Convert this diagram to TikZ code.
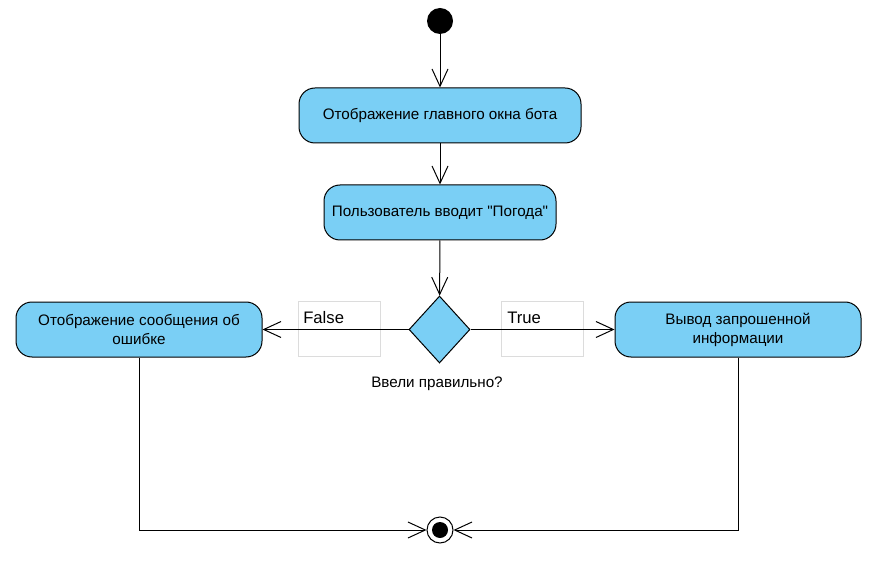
\documentclass[tikz,border=0pt]{standalone}
\usepackage{fontspec}
\defaultfontfeatures[\rmfamily]{}
\setmainfont{Liberation Sans}
\usetikzlibrary{shapes.geometric,arrows.meta}
\definecolor{actfill}{RGB}{122,207,245}
\definecolor{lblgray}{RGB}{220,220,220}
\begin{document}
\begin{tikzpicture}[x=0.75pt,y=-0.75pt,
  act/.style={draw=black,fill=actfill,rounded corners=12pt,line width=0.75pt,
    align=center,font=\fontsize{11.4}{14.2}\selectfont,inner sep=0pt},
  dec/.style={draw=black,fill=actfill,diamond,line width=0.75pt,minimum width=45.75pt,minimum height=50.25pt,inner sep=0pt,aspect=0.91},
  flow/.style={line width=0.75pt,-{Straight Barb[length=13pt,width=12pt,line width=0.75pt]}},
  lbl/.style={draw=lblgray,line width=0.6pt,minimum width=61.5pt,minimum height=41.25pt,inner sep=0pt},
  txt/.style={font=\fontsize{11.4}{14}\selectfont,inner sep=0pt},
  tag/.style={font=\fontsize{12.5}{14}\selectfont,inner sep=0pt}]
\useasboundingbox (0,0) rectangle (887,573);
\node[circle,fill=black,minimum size=19.5pt,inner sep=0pt] (start) at (440,21) {};
\node[act,minimum width=211.5pt,minimum height=41.25pt] (a1) at (440,115.5) {Отображение главного окна бота};
\node[act,minimum width=174pt,minimum height=41.25pt] (a2) at (440,212.5) {Пользователь вводит "Погода"};
\node[dec] (d) at (439.5,329.5) {};
\node[act,minimum width=184.5pt,minimum height=41.25pt] (err) at (139,329.5) {Отображение сообщения об\\ошибке};
\node[act,minimum width=184.5pt,minimum height=41.25pt] (out) at (738,329.5) {Вывод запрошенной\\информации};
\node[lbl] (fbox) at (339,328.5) {};
\node[lbl] (tbox) at (542.5,328.5) {};
\node[tag,anchor=west] (ftxt) at (303,317.5) {False};
\node[tag,anchor=west] (ttxt) at (507,317.5) {True};
\node[txt] (cond) at (437,384) {Ввели правильно?};
\node[circle,draw=black,line width=0.75pt,minimum size=19.5pt,inner sep=0pt] (end) at (440,530) {};
\node[circle,fill=black,minimum size=12pt,inner sep=0pt] (endin) at (440,530) {};
\draw[flow] (start) -- (a1);
\draw[flow] (a1) -- (a2);
\draw[flow] (a2) -- (d);
\draw[flow] (d) -- (err);
\draw[flow] (d) -- (out);
\draw[flow] (err.south) |- (end.west);
\draw[flow] (out.south) |- (end.east);
\end{tikzpicture}
\end{document}
